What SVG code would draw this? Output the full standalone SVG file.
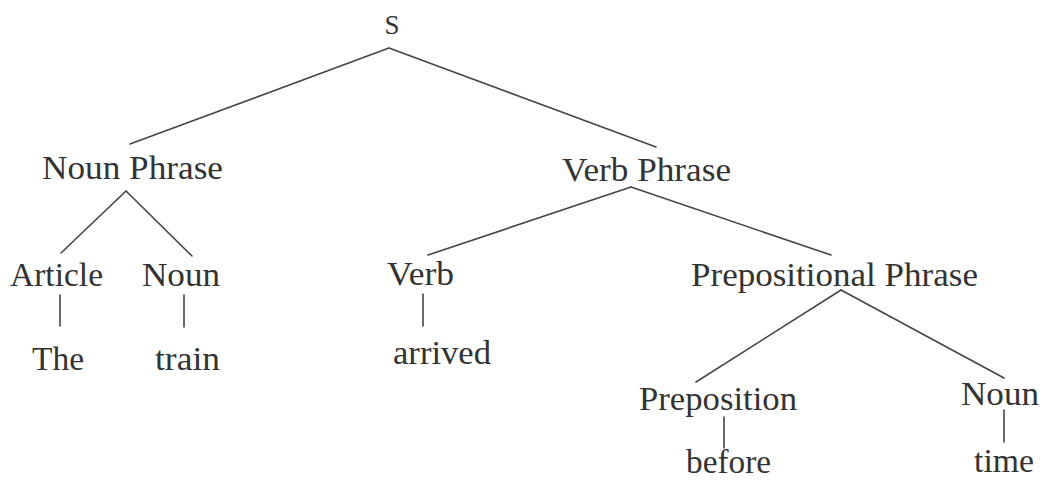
<svg xmlns="http://www.w3.org/2000/svg" width="1048" height="482" viewBox="0 0 1048 482">
<style>
text{font-family:"Liberation Serif","DejaVu Serif",serif;font-size:33px;fill:#333}
#connectors line{stroke:#454545;stroke-width:1.6;stroke-linecap:round}
</style>
<rect width="1048" height="482" fill="#fff"/>
<g id="connectors">
<line x1="389" y1="48" x2="130" y2="144"/>
<line x1="389" y1="48" x2="656" y2="147"/>
<line x1="126" y1="191" x2="61" y2="253"/>
<line x1="126" y1="191" x2="192" y2="256"/>
<line x1="60" y1="295" x2="60" y2="326"/>
<line x1="184" y1="295" x2="184" y2="327"/>
<line x1="631" y1="187" x2="428" y2="255"/>
<line x1="631" y1="187" x2="831" y2="255"/>
<line x1="423" y1="294" x2="423" y2="326"/>
<line x1="841" y1="290" x2="696" y2="382"/>
<line x1="841" y1="290" x2="1004" y2="378"/>
<line x1="724" y1="417" x2="724" y2="448"/>
<line x1="1004" y1="410" x2="1004" y2="442"/>
</g>
<g id="S"><text x="392" y="34" text-anchor="middle" style="font-size:27px">S</text></g>
<g id="np"><text x="42" y="179" textLength="181" lengthAdjust="spacingAndGlyphs">Noun Phrase</text></g>
<g id="vp"><text x="562" y="181" textLength="169" lengthAdjust="spacingAndGlyphs">Verb Phrase</text></g>
<g id="article"><text x="10" y="286" textLength="93" lengthAdjust="spacingAndGlyphs">Article</text></g>
<g id="noun1"><text x="142" y="286" textLength="78" lengthAdjust="spacingAndGlyphs">Noun</text></g>
<g id="the"><text x="32" y="370" textLength="52" lengthAdjust="spacingAndGlyphs">The</text></g>
<g id="train"><text x="155" y="370" textLength="65" lengthAdjust="spacingAndGlyphs">train</text></g>
<g id="verb"><text x="387" y="285" textLength="67" lengthAdjust="spacingAndGlyphs">Verb</text></g>
<g id="arrived"><text x="393" y="364" textLength="98" lengthAdjust="spacingAndGlyphs">arrived</text></g>
<g id="pp"><text x="691" y="286" textLength="287" lengthAdjust="spacingAndGlyphs">Prepositional Phrase</text></g>
<g id="preposition"><text x="639" y="410" textLength="158" lengthAdjust="spacingAndGlyphs">Preposition</text></g>
<g id="noun2"><text x="961" y="405" textLength="78" lengthAdjust="spacingAndGlyphs">Noun</text></g>
<g id="before"><text x="686" y="473" textLength="85" lengthAdjust="spacingAndGlyphs">before</text></g>
<g id="time"><text x="974" y="472" textLength="60" lengthAdjust="spacingAndGlyphs">time</text></g>
</svg>
